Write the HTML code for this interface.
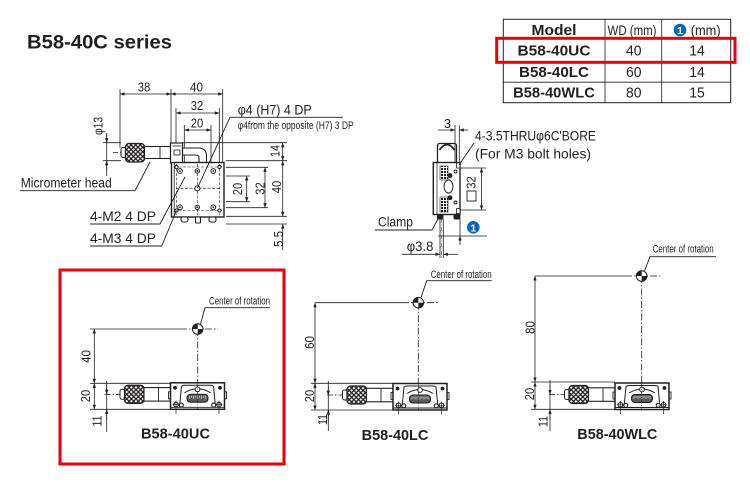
<!DOCTYPE html>
<html><head><meta charset="utf-8"><style>
html,body{margin:0;padding:0;background:#fff;width:750px;height:500px;overflow:hidden}
svg{display:block}
text{font-family:"Liberation Sans",sans-serif;fill:#231f20}
.b{font-weight:bold}
</style></head><body>
<svg width="750" height="500" viewBox="0 0 750 500" xmlns="http://www.w3.org/2000/svg">
<defs>
<marker id="ar" viewBox="0 0 8 6" refX="8" refY="3" markerWidth="5" markerHeight="3.4" orient="auto-start-reverse" markerUnits="userSpaceOnUse"><path d="M0,0L8,3L0,6z" fill="#231f20"/></marker>
<pattern id="kn" width="4.6" height="4.6" patternUnits="userSpaceOnUse"><rect width="4.6" height="4.6" fill="#fff"/><path d="M0,0L4.6,4.6M4.6,0L0,4.6" stroke="#231f20" stroke-width="1.3"/></pattern>
<pattern id="sq" width="3" height="3" patternUnits="userSpaceOnUse"><rect width="3" height="3" fill="#fff"/><rect width="2" height="2" fill="#231f20"/></pattern>
<g id="cr"><circle r="5.3" fill="#fff" stroke="#231f20" stroke-width="1"/><path d="M0,0L-5.3,0A5.3,5.3 0 0 1 0,-5.3zM0,0L5.3,0A5.3,5.3 0 0 1 0,5.3z" fill="#231f20"/></g>
<g id="st" stroke="#231f20" fill="#fff">
 <line x1="-66" y1="11.5" x2="-50" y2="11.5" stroke-width="0.8" stroke-dasharray="6 2 1.5 2"/>
 <rect x="-50.5" y="6.5" width="5" height="10" rx="2" stroke-width="1"/>
 <rect x="-46" y="2.5" width="19.5" height="18" rx="3.5" fill="url(#kn)" stroke-width="1.3"/>
 <rect x="-26.5" y="4.8" width="26.5" height="13.5" stroke-width="1.1"/>
 <line x1="-12" y1="4.8" x2="-12" y2="18.3" stroke-width="0.9"/>
 <rect x="-2" y="9" width="2.5" height="7" stroke-width="0.9"/>
 <rect x="53.5" y="9" width="2.5" height="7" stroke-width="0.9"/>
 <rect x="0" y="0" width="54" height="26.5" stroke-width="1.5"/>
 <path d="M9,24 L11,3.5 Q12,2.5 14,2.5 H40 Q42,2.5 43,3.5 L45,24" fill="none" stroke-width="1"/>
 <path d="M14,10 Q27,2 40,10" fill="none" stroke-width="1"/>
 <rect x="16.5" y="11.5" width="21" height="8" rx="3.5" fill="#5a5a5a" stroke-width="1"/>
 <path d="M19,13v3M21,13v2M23,13v3M25,13v2M27,13v3M29,13v2M31,13v3M33,13v2M35,13v3" stroke="#fff" stroke-width="0.6" fill="none"/>
 <circle cx="27" cy="6.5" r="2.4" stroke-width="1"/>
 <circle cx="4.5" cy="5" r="1.9" fill="#231f20" stroke="none"/>
 <circle cx="49.5" cy="5" r="1.9" fill="#231f20" stroke="none"/>
 <line x1="0" y1="24.5" x2="54" y2="24.5" stroke-width="0.9"/>
 <circle cx="5.5" cy="21.8" r="2.3" stroke-width="1.1"/>
 <circle cx="10.8" cy="22.3" r="2" stroke-width="1.1"/>
 <circle cx="43.2" cy="22.3" r="2" stroke-width="1.1"/>
 <circle cx="48.5" cy="21.8" r="2.3" stroke-width="1.1"/>
 <path d="M5.5,18v8M2,21.8h7M48.5,18v8M45,21.8h7" stroke-width="0.7" fill="none"/>
 <line x1="5.5" y1="26.5" x2="5.5" y2="31" stroke-width="0.7"/>
 <line x1="48.5" y1="26.5" x2="48.5" y2="31" stroke-width="0.7"/>
</g>
</defs>

<!-- Title -->
<text x="27" y="48.5" class="b" font-size="19" textLength="145" lengthAdjust="spacingAndGlyphs">B58-40C series</text>

<!-- ============ TOP VIEW ============ -->
<g stroke="#231f20" stroke-width="0.8" fill="none">
 <line x1="120" y1="89" x2="120" y2="148"/>
 <line x1="171" y1="89" x2="171" y2="143"/>
 <line x1="222.7" y1="89" x2="222.7" y2="162"/>
 <line x1="120" y1="94" x2="171" y2="94" marker-start="url(#ar)" marker-end="url(#ar)"/>
 <line x1="171" y1="94" x2="222.7" y2="94" marker-start="url(#ar)" marker-end="url(#ar)"/>
 <line x1="176" y1="108" x2="176" y2="162"/>
 <line x1="219.3" y1="108" x2="219.3" y2="162"/>
 <line x1="176" y1="113" x2="219.3" y2="113" marker-start="url(#ar)" marker-end="url(#ar)"/>
 <line x1="184.3" y1="125" x2="184.3" y2="162"/>
 <line x1="211" y1="125" x2="211" y2="162"/>
 <line x1="184.3" y1="130" x2="211" y2="130" marker-start="url(#ar)" marker-end="url(#ar)"/>
 <!-- phi13 -->
 <line x1="103" y1="142.7" x2="121" y2="142.7"/>
 <line x1="103" y1="160.7" x2="121" y2="160.7"/>
 <line x1="106.7" y1="133" x2="106.7" y2="176"/>
 <line x1="106.7" y1="134" x2="106.7" y2="142.7" marker-end="url(#ar)"/>
 <line x1="106.7" y1="170" x2="106.7" y2="160.7" marker-end="url(#ar)"/>
 <!-- right dims -->
 <line x1="182" y1="142.7" x2="287" y2="142.7"/>
 <line x1="226" y1="160.7" x2="287" y2="160.7"/>
 <line x1="226" y1="216.3" x2="287" y2="216.3"/>
 <line x1="226" y1="224" x2="287" y2="224"/>
 <line x1="282.7" y1="142.7" x2="282.7" y2="160.7" marker-start="url(#ar)" marker-end="url(#ar)"/>
 <line x1="282.7" y1="160.7" x2="282.7" y2="216.3" marker-start="url(#ar)" marker-end="url(#ar)"/>
 <line x1="282.7" y1="250" x2="282.7" y2="224" marker-end="url(#ar)"/>
 <line x1="226" y1="167.3" x2="268" y2="167.3"/>
 <line x1="226" y1="207.7" x2="268" y2="207.7"/>
 <line x1="265" y1="167.3" x2="265" y2="207.7" marker-start="url(#ar)" marker-end="url(#ar)"/>
 <line x1="226" y1="176" x2="250" y2="176"/>
 <line x1="226" y1="201.7" x2="250" y2="201.7"/>
 <line x1="246.7" y1="176" x2="246.7" y2="201.7" marker-start="url(#ar)" marker-end="url(#ar)"/>
 <!-- micrometer axis -->
 <line x1="113" y1="152.5" x2="122" y2="152.5" stroke-dasharray="5 2 1.5 2"/>
</g>
<!-- top view micrometer -->
<g stroke="#231f20" fill="#fff">
 <rect x="121" y="147.5" width="5" height="10" rx="2" stroke-width="1"/>
 <rect x="125.5" y="143.5" width="19" height="18.5" rx="3.5" fill="url(#kn)" stroke-width="1.3"/>
 <rect x="144.5" y="146.5" width="26" height="12" stroke-width="1.1"/>
 <line x1="160" y1="146.5" x2="160" y2="158.5" stroke-width="0.9"/>
 <path d="M182.5,148 H198 Q206.5,148 206.5,156 V163 H199 V158 Q199,155 196,155 H182.5 Z" stroke-width="1.1"/>
 <rect x="170.5" y="143" width="12" height="20" stroke-width="1.2"/>
 <line x1="172.5" y1="146" x2="181" y2="146" stroke-width="0.8"/>
 <rect x="174" y="150" width="6" height="5" stroke-width="0.8"/>
 <!-- body -->
 <rect x="171.5" y="162.5" width="52.5" height="54.5" stroke-width="1.4"/>
 <line x1="174.2" y1="163" x2="174.2" y2="216.5" stroke-width="0.8"/>
 <g stroke-width="0.6" stroke-dasharray="3 1.5" fill="none">
  <line x1="174" y1="167" x2="222" y2="167"/>
  <line x1="174" y1="210.5" x2="222" y2="210.5"/>
  <line x1="176.5" y1="164" x2="176.5" y2="215"/>
  <line x1="219.5" y1="164" x2="219.5" y2="215"/>
  <line x1="197.3" y1="164" x2="197.3" y2="215"/>
  <line x1="176" y1="188.3" x2="220" y2="188.3"/>
 </g>
 <g stroke-width="1">
  <circle cx="180" cy="171" r="2.4"/><circle cx="213.3" cy="171" r="2.4"/>
  <circle cx="180" cy="207.3" r="2.4"/><circle cx="213.3" cy="207.3" r="2.4"/>
  <circle cx="197.3" cy="171" r="2.2"/><circle cx="197.3" cy="207.3" r="2.2"/>
  <circle cx="197.3" cy="188.3" r="2.6"/>
  <circle cx="176.5" cy="167" r="1.6"/><circle cx="219.5" cy="167" r="1.6"/>
  <circle cx="176.5" cy="210.5" r="1.6"/><circle cx="219.5" cy="210.5" r="1.6"/>
 </g>
 <circle cx="180" cy="171" r="0.9" fill="#231f20" stroke="none"/><circle cx="213.3" cy="171" r="0.9" fill="#231f20" stroke="none"/>
 <circle cx="180" cy="207.3" r="0.9" fill="#231f20" stroke="none"/><circle cx="213.3" cy="207.3" r="0.9" fill="#231f20" stroke="none"/>
 <circle cx="197.3" cy="171" r="1" fill="#231f20" stroke="none"/><circle cx="197.3" cy="207.3" r="1" fill="#231f20" stroke="none"/>
 <rect x="181" y="217" width="7" height="5" rx="2" stroke-width="1.1"/>
 <rect x="195.5" y="217" width="5" height="6" rx="1" stroke-width="1.1"/>
 <rect x="209" y="217" width="7" height="5" rx="2" stroke-width="1.1"/>
</g>
<!-- leaders -->
<g stroke="#231f20" stroke-width="0.9" fill="none">
 <polyline points="343,117.3 230,117.3 197.3,188.3"/>
 <polyline points="20,190.7 135,190.7 150,162"/>
 <polyline points="90,224 160,224 185,177"/>
 <polyline points="90,246 161.7,246 176.5,210.5"/>
</g>
<!-- top view texts -->
<g font-size="13">
 <text x="144" y="91.5" text-anchor="middle" textLength="12.5" lengthAdjust="spacingAndGlyphs">38</text>
 <text x="196.5" y="91.5" text-anchor="middle" textLength="13" lengthAdjust="spacingAndGlyphs">40</text>
 <text x="197" y="110" text-anchor="middle" textLength="12.5" lengthAdjust="spacingAndGlyphs">32</text>
 <text x="197" y="127.5" text-anchor="middle" textLength="12.5" lengthAdjust="spacingAndGlyphs">20</text>
 <text transform="translate(98,126) rotate(-90)" y="4.5" text-anchor="middle" textLength="18" lengthAdjust="spacingAndGlyphs">φ13</text>
 <text transform="translate(275,151) rotate(-90)" y="4.5" text-anchor="middle" textLength="12" lengthAdjust="spacingAndGlyphs">14</text>
 <text transform="translate(276.5,187) rotate(-90)" y="4.5" text-anchor="middle" textLength="12.5" lengthAdjust="spacingAndGlyphs">40</text>
 <text transform="translate(260,188.5) rotate(-90)" y="4.5" text-anchor="middle" textLength="12.5" lengthAdjust="spacingAndGlyphs">32</text>
 <text transform="translate(237.5,189) rotate(-90)" y="4.5" text-anchor="middle" textLength="12.5" lengthAdjust="spacingAndGlyphs">20</text>
 <text transform="translate(278.5,239) rotate(-90)" y="4.5" text-anchor="middle" textLength="16" lengthAdjust="spacingAndGlyphs">5.5</text>
</g>
<text x="237.7" y="114.5" font-size="14" textLength="74" lengthAdjust="spacingAndGlyphs">φ4 (H7) 4 DP</text>
<text x="237.7" y="129" font-size="11" textLength="116" lengthAdjust="spacingAndGlyphs">φ4from the opposite (H7) 3 DP</text>
<text x="20.7" y="187.5" font-size="14" textLength="91" lengthAdjust="spacingAndGlyphs">Micrometer head</text>
<text x="90" y="221" font-size="14" textLength="66" lengthAdjust="spacingAndGlyphs">4-M2 4 DP</text>
<text x="90" y="243" font-size="14" textLength="66" lengthAdjust="spacingAndGlyphs">4-M3 4 DP</text>

<!-- ============ SIDE VIEW ============ -->
<g stroke="#231f20" fill="#fff">
 <rect x="437.5" y="143.5" width="19" height="20" rx="2" stroke-width="1.3"/>
 <path d="M439.5,150 Q447,139 454.5,150" fill="none" stroke-width="1.7"/>
 <rect x="433.3" y="162.5" width="26.7" height="52" stroke-width="1.4"/>
 <line x1="437" y1="163" x2="437" y2="214" stroke-width="0.7"/>
 <rect x="440" y="166" width="8" height="14" fill="url(#sq)" stroke-width="0.6"/>
 <rect x="440" y="197" width="8" height="15" fill="url(#sq)" stroke-width="0.6"/>
 <ellipse cx="448.5" cy="186.5" rx="4.5" ry="6.5" stroke-width="1"/>
 <circle cx="450" cy="175.5" r="2.4" fill="#231f20" stroke="none"/>
 <circle cx="450" cy="197.8" r="2.4" fill="#231f20" stroke="none"/>
 <circle cx="455.5" cy="171.5" r="1.5" stroke-width="0.9"/>
 <circle cx="455.5" cy="202.5" r="1.5" stroke-width="0.9"/>
 <rect x="456.5" y="163" width="3.5" height="5" stroke-width="0.8"/>
 <rect x="456.5" y="208.5" width="3.5" height="5" stroke-width="0.8"/>
 <rect x="437" y="214.5" width="6.5" height="5" rx="1.5" fill="#231f20" stroke="none"/>
 <rect x="453.5" y="214.5" width="6.5" height="5" rx="1.5" fill="#231f20" stroke="none"/>
</g>
<g stroke="#231f20" stroke-width="0.8" fill="none">
 <line x1="440" y1="219" x2="440" y2="258"/>
 <line x1="443.3" y1="219" x2="443.3" y2="258"/>
 <line x1="441.7" y1="219" x2="441.7" y2="258" stroke-dasharray="4 1.5 1 1.5" stroke-width="0.5"/>
 <!-- 3 dim -->
 <line x1="455" y1="125" x2="455" y2="163"/>
 <line x1="459.3" y1="125" x2="459.3" y2="163"/>
 <line x1="438" y1="130" x2="455" y2="130" marker-end="url(#ar)"/>
 <line x1="468" y1="130" x2="459.3" y2="130" marker-end="url(#ar)"/>
 <!-- leader -->
 <line x1="474" y1="143" x2="459" y2="165" stroke-width="0.9"/>
 <!-- 32 -->
 <line x1="460" y1="168" x2="486" y2="168"/>
 <line x1="460" y1="210" x2="486" y2="210"/>
 <line x1="481.5" y1="168" x2="481.5" y2="210" marker-start="url(#ar)" marker-end="url(#ar)"/>
 <!-- 1 dim -->
 <line x1="438" y1="236" x2="487" y2="236"/>
 <line x1="460" y1="214" x2="460" y2="241"/>
 <line x1="460" y1="245" x2="460" y2="236" marker-end="url(#ar)"/>
 <!-- clamp leader -->
 <polyline points="375,230 432,230 438,219" stroke-width="0.9"/>
 <!-- phi3.8 -->
 <line x1="401.7" y1="254.3" x2="440" y2="254.3" marker-end="url(#ar)"/>
 <line x1="458.3" y1="254.3" x2="443.3" y2="254.3" marker-end="url(#ar)"/>
</g>
<rect x="467" y="191" width="9" height="10" fill="#fff" stroke="#231f20" stroke-width="0.9"/>
<text x="447.5" y="128" font-size="13" text-anchor="middle">3</text>
<text x="475" y="140.5" font-size="14" textLength="121" lengthAdjust="spacingAndGlyphs">4-3.5THRUφ6C'BORE</text>
<text x="475" y="158.5" font-size="14" textLength="116" lengthAdjust="spacingAndGlyphs">(For M3 bolt holes)</text>
<text transform="translate(471,182.5) rotate(-90)" y="4.5" font-size="13" text-anchor="middle" textLength="12.5" lengthAdjust="spacingAndGlyphs">32</text>
<text x="378" y="226.5" font-size="14" textLength="35" lengthAdjust="spacingAndGlyphs">Clamp</text>
<text x="406.7" y="251" font-size="14" textLength="26.7" lengthAdjust="spacingAndGlyphs">φ3.8</text>
<circle cx="473.3" cy="227.3" r="6.3" fill="#0068b7"/>
<text x="473.3" y="231.3" font-size="10.5" class="b" text-anchor="middle" style="fill:#fff">1</text>

<!-- ============ TABLE ============ -->
<g stroke="#231f20" fill="none">
 <rect x="503.3" y="19.3" width="227.4" height="83.4" stroke-width="1"/>
 <line x1="605" y1="19.3" x2="605" y2="102.7" stroke-width="0.8"/>
 <line x1="661.7" y1="19.3" x2="661.7" y2="102.7" stroke-width="0.8"/>
 <line x1="503.3" y1="38.5" x2="730.7" y2="38.5" stroke-width="1.4"/>
 <line x1="503.3" y1="61.7" x2="730.7" y2="61.7" stroke-width="0.8"/>
 <line x1="503.3" y1="82.2" x2="730.7" y2="82.2" stroke-width="0.8"/>
</g>
<text x="554" y="35" class="b" font-size="15" text-anchor="middle" textLength="45" lengthAdjust="spacingAndGlyphs">Model</text>
<text x="632" y="35" font-size="14" text-anchor="middle" textLength="49" lengthAdjust="spacingAndGlyphs">WD (mm)</text>
<circle cx="680" cy="30" r="6.3" fill="#0068b7"/>
<text x="680" y="34" font-size="10.5" class="b" text-anchor="middle" style="fill:#fff">1</text>
<text x="690.7" y="35" font-size="14" textLength="30" lengthAdjust="spacingAndGlyphs">(mm)</text>
<text x="554" y="55.5" class="b" font-size="15" text-anchor="middle" textLength="73" lengthAdjust="spacingAndGlyphs">B58-40UC</text>
<text x="633.8" y="55.5" font-size="15" text-anchor="middle" textLength="15.5" lengthAdjust="spacingAndGlyphs">40</text>
<text x="697" y="55.5" font-size="15" text-anchor="middle" textLength="15.5" lengthAdjust="spacingAndGlyphs">14</text>
<text x="554" y="77" class="b" font-size="15" text-anchor="middle" textLength="70" lengthAdjust="spacingAndGlyphs">B58-40LC</text>
<text x="633.8" y="77" font-size="15" text-anchor="middle" textLength="15.5" lengthAdjust="spacingAndGlyphs">60</text>
<text x="697" y="77" font-size="15" text-anchor="middle" textLength="15.5" lengthAdjust="spacingAndGlyphs">14</text>
<text x="554" y="97.5" class="b" font-size="15" text-anchor="middle" textLength="81.7" lengthAdjust="spacingAndGlyphs">B58-40WLC</text>
<text x="633.8" y="97.5" font-size="15" text-anchor="middle" textLength="15.5" lengthAdjust="spacingAndGlyphs">80</text>
<text x="697" y="97.5" font-size="15" text-anchor="middle" textLength="15.5" lengthAdjust="spacingAndGlyphs">15</text>
<rect x="496.7" y="38.3" width="238.3" height="24" fill="none" stroke="#e60012" stroke-width="3"/>

<!-- ============ BOTTOM LEFT: B58-40UC ============ -->
<g stroke="#231f20" stroke-width="0.8" fill="none">
 <line x1="90" y1="329" x2="180" y2="329"/>
 <line x1="180" y1="329" x2="218" y2="329" stroke-dasharray="7 2 1.5 2"/>
 <line x1="197.7" y1="329" x2="197.7" y2="410" stroke-dasharray="7 2 1.5 2"/>
 <line x1="94.3" y1="329" x2="94.3" y2="383.3" marker-start="url(#ar)" marker-end="url(#ar)"/>
 <line x1="94.3" y1="383.3" x2="94.3" y2="409.3" marker-start="url(#ar)" marker-end="url(#ar)"/>
 <line x1="90" y1="383.3" x2="170" y2="383.3"/>
 <line x1="90" y1="409.3" x2="170" y2="409.3"/>
 <line x1="106.7" y1="381" x2="106.7" y2="432"/>
 <line x1="106.7" y1="385" x2="106.7" y2="394.3" marker-end="url(#ar)"/>
 <line x1="106.7" y1="420" x2="106.7" y2="409.3" marker-end="url(#ar)"/>
 <polyline points="270,307.7 205,307.7 200.5,324" stroke-width="0.9"/>
</g>
<use href="#st" transform="translate(170.5,382.8)"/>
<line x1="197.7" y1="383" x2="197.7" y2="410" stroke="#231f20" stroke-width="0.6" stroke-dasharray="4 1.5 1 1.5"/>
<use href="#cr" transform="translate(197.7,329)"/>
<g font-size="13">
 <text transform="translate(86,356.5) rotate(-90)" y="4.5" text-anchor="middle" textLength="13" lengthAdjust="spacingAndGlyphs">40</text>
 <text transform="translate(85.5,396) rotate(-90)" y="4.5" text-anchor="middle" textLength="12.5" lengthAdjust="spacingAndGlyphs">20</text>
 <text transform="translate(97,421) rotate(-90)" y="4.5" text-anchor="middle" textLength="11" lengthAdjust="spacingAndGlyphs">11</text>
</g>
<text x="209" y="304.5" font-size="11" textLength="61" lengthAdjust="spacingAndGlyphs">Center of rotation</text>
<text x="175.5" y="438.5" class="b" font-size="15" text-anchor="middle" textLength="69" lengthAdjust="spacingAndGlyphs">B58-40UC</text>
<rect x="60" y="270" width="224" height="194" fill="none" stroke="#e60012" stroke-width="3"/>

<!-- ============ BOTTOM MIDDLE: B58-40LC ============ -->
<g stroke="#231f20" stroke-width="0.8" fill="none">
 <line x1="315" y1="302.7" x2="402" y2="302.7"/>
 <line x1="402" y1="302.7" x2="438.3" y2="302.7" stroke-dasharray="7 2 1.5 2"/>
 <line x1="418.3" y1="302.7" x2="418.3" y2="410" stroke-dasharray="7 2 1.5 2"/>
 <line x1="315" y1="302.7" x2="315" y2="383.3" marker-start="url(#ar)" marker-end="url(#ar)"/>
 <line x1="315" y1="383.3" x2="315" y2="410" marker-start="url(#ar)" marker-end="url(#ar)"/>
 <line x1="311" y1="383.3" x2="393" y2="383.3"/>
 <line x1="311" y1="410" x2="393" y2="410"/>
 <line x1="328.3" y1="381" x2="328.3" y2="431"/>
 <line x1="328.3" y1="386" x2="328.3" y2="395.3" marker-end="url(#ar)"/>
 <line x1="328.3" y1="421" x2="328.3" y2="410" marker-end="url(#ar)"/>
 <polyline points="491.7,280.7 426.7,280.7 421,297.5" stroke-width="0.9"/>
</g>
<use href="#st" transform="translate(393,383.5)"/>
<line x1="418.3" y1="384" x2="418.3" y2="410" stroke="#231f20" stroke-width="0.6" stroke-dasharray="4 1.5 1 1.5"/>
<use href="#cr" transform="translate(418.3,302.7)"/>
<g font-size="13">
 <text transform="translate(309.5,342.5) rotate(-90)" y="4.5" text-anchor="middle" textLength="13" lengthAdjust="spacingAndGlyphs">60</text>
 <text transform="translate(309.5,396) rotate(-90)" y="4.5" text-anchor="middle" textLength="12.5" lengthAdjust="spacingAndGlyphs">20</text>
 <text transform="translate(322.5,419.5) rotate(-90)" y="4.5" text-anchor="middle" textLength="11" lengthAdjust="spacingAndGlyphs">11</text>
</g>
<text x="430.7" y="278" font-size="11" textLength="61" lengthAdjust="spacingAndGlyphs">Center of rotation</text>
<text x="395" y="440" class="b" font-size="15" text-anchor="middle" textLength="66.7" lengthAdjust="spacingAndGlyphs">B58-40LC</text>

<!-- ============ BOTTOM RIGHT: B58-40WLC ============ -->
<g stroke="#231f20" stroke-width="0.8" fill="none">
 <line x1="535" y1="276" x2="625" y2="276"/>
 <line x1="625" y1="276" x2="661.7" y2="276" stroke-dasharray="7 2 1.5 2"/>
 <line x1="641.7" y1="276" x2="641.7" y2="409" stroke-dasharray="7 2 1.5 2"/>
 <line x1="535" y1="276" x2="535" y2="382" marker-start="url(#ar)" marker-end="url(#ar)"/>
 <line x1="535" y1="382" x2="535" y2="409.3" marker-start="url(#ar)" marker-end="url(#ar)"/>
 <line x1="531" y1="382" x2="615" y2="382"/>
 <line x1="531" y1="409.3" x2="615" y2="409.3"/>
 <line x1="550" y1="380" x2="550" y2="431"/>
 <line x1="550" y1="385" x2="550" y2="394.5" marker-end="url(#ar)"/>
 <line x1="550" y1="420" x2="550" y2="409.3" marker-end="url(#ar)"/>
 <polyline points="716,256.7 650,256.7 644.5,271" stroke-width="0.9"/>
</g>
<use href="#st" transform="translate(615,383)"/>
<line x1="641.7" y1="383.5" x2="641.7" y2="409" stroke="#231f20" stroke-width="0.6" stroke-dasharray="4 1.5 1 1.5"/>
<use href="#cr" transform="translate(641.7,276)"/>
<g font-size="13">
 <text transform="translate(530,327.5) rotate(-90)" y="4.5" text-anchor="middle" textLength="13" lengthAdjust="spacingAndGlyphs">80</text>
 <text transform="translate(529.5,394) rotate(-90)" y="4.5" text-anchor="middle" textLength="12.5" lengthAdjust="spacingAndGlyphs">20</text>
 <text transform="translate(543,421.5) rotate(-90)" y="4.5" text-anchor="middle" textLength="11" lengthAdjust="spacingAndGlyphs">11</text>
</g>
<text x="652.7" y="252.5" font-size="11" textLength="61" lengthAdjust="spacingAndGlyphs">Center of rotation</text>
<text x="617.3" y="439" class="b" font-size="15" text-anchor="middle" textLength="80" lengthAdjust="spacingAndGlyphs">B58-40WLC</text>
</svg>
</body></html>
